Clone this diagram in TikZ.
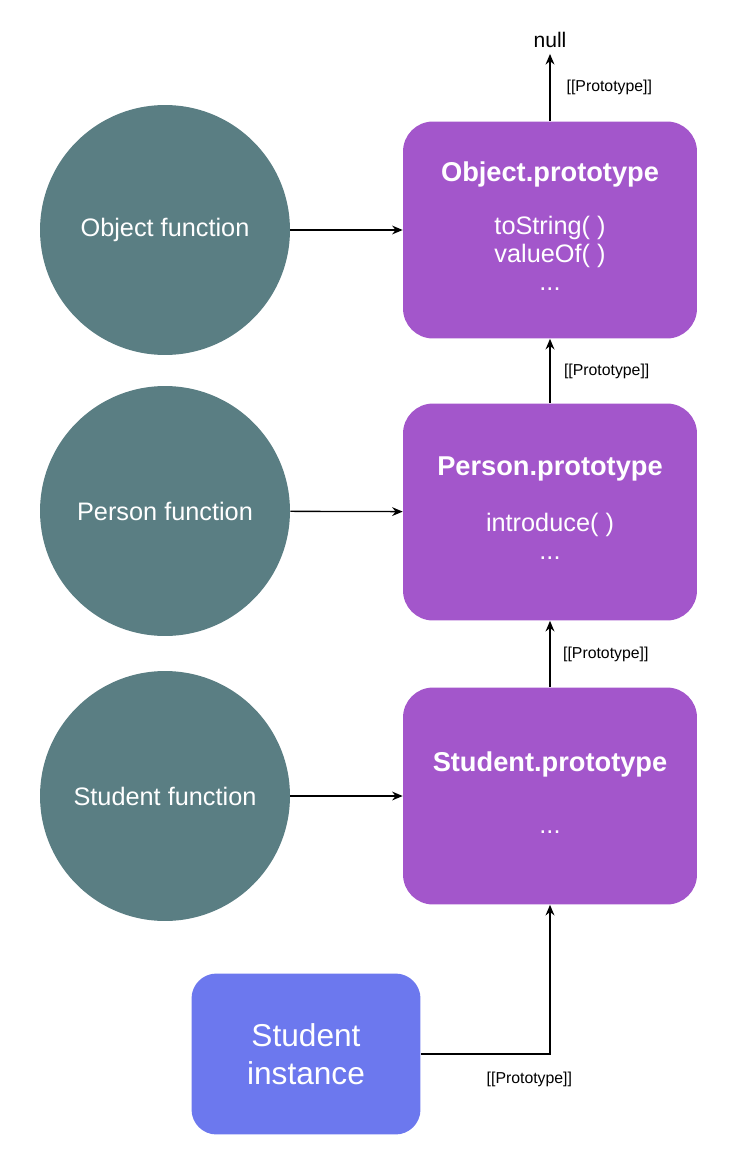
\documentclass[tikz,border=0pt]{standalone}
\usepackage{fontspec}
\setmainfont{Liberation Sans}
\usetikzlibrary{arrows.meta}
\definecolor{fnteal}{HTML}{5A7E83}
\definecolor{protopurple}{HTML}{A356CB}
\definecolor{instblue}{HTML}{6C78EE}
\tikzset{
	fnnode/.style={circle, fill=fnteal, text=white, minimum size=5cm, inner sep=0pt, font=\fontsize{14.4}{17}\selectfont},
	protobox/.style={rectangle, rounded corners=0.6cm, fill=protopurple, minimum width=5.88cm, minimum height=4.34cm, inner sep=0pt},
	instbox/.style={rectangle, rounded corners=0.5cm, fill=instblue, text=white, minimum width=4.58cm, minimum height=3.22cm, align=center, font=\fontsize{18}{21.5}\selectfont},
	ptitle/.style={text=white, font=\bfseries\fontsize{15.5}{18}\selectfont},
	pitems/.style={text=white, align=center, font=\fontsize{14.4}{16}\selectfont},
	link/.style={-{Stealth[length=6pt,width=5pt]}, line width=0.75pt},
	protolink/.style={-{Stealth[length=6pt,width=5pt]}, line width=1pt},
	protolabel/.style={font=\fontsize{9}{11}\selectfont, inner sep=0pt}
}
\begin{document}
\begin{tikzpicture}[x=0.02cm, y=-0.02cm]
		\useasboundingbox (0,0) rectangle (734,1166);
		% constructor functions
		\node[fnnode] (objfn) at (165,230) {Object function};
		\node[fnnode] (personfn) at (165,511) {Person function};
		\node[fnnode] (studentfn) at (165,796) {Student function};
		% prototype objects
		\node[protobox] (objproto) at (550,230) {};
		\node[protobox] (personproto) at (550,512) {};
		\node[protobox] (studentproto) at (550,796) {};
		\node[ptitle] (objtitle) at (550,174) {Object.prototype};
		\node[pitems] (objitems) at (550,253) {toString( )\\valueOf( )\\...};
		\node[ptitle] (persontitle) at (550,469) {Person.prototype};
		\node[pitems] (personitems) at (550,536) {introduce( )\\...};
		\node[ptitle] (studenttitle) at (550,764) {Student.prototype};
		\node[pitems] (studentitems) at (550,832) {...};
		\node (null) at (550,40) {\fontsize{12}{14}\selectfont null};
		\node[instbox] (inst) at (306,1054) {Student\\instance};
		% links
		\draw[link] (objfn) -- (objproto);
		\draw[link] (personfn) -- (personproto);
		\draw[link] (studentfn) -- (studentproto);
		\draw[protolink] (objproto.north) -- (null.south) node[protolabel, midway, right=9pt]{[[Prototype]]};
		\draw[protolink] (personproto.north) -- (objproto.south) node[protolabel, midway, right=7.5pt]{[[Prototype]]};
		\draw[protolink] (studentproto.north) -- (personproto.south) node[protolabel, midway, right=7pt]{[[Prototype]]};
		\draw[protolink] (inst.east) -| (studentproto.south) node[protolabel, pos=0.42, below=10pt]{[[Prototype]]};
	\end{tikzpicture}
\end{document}
